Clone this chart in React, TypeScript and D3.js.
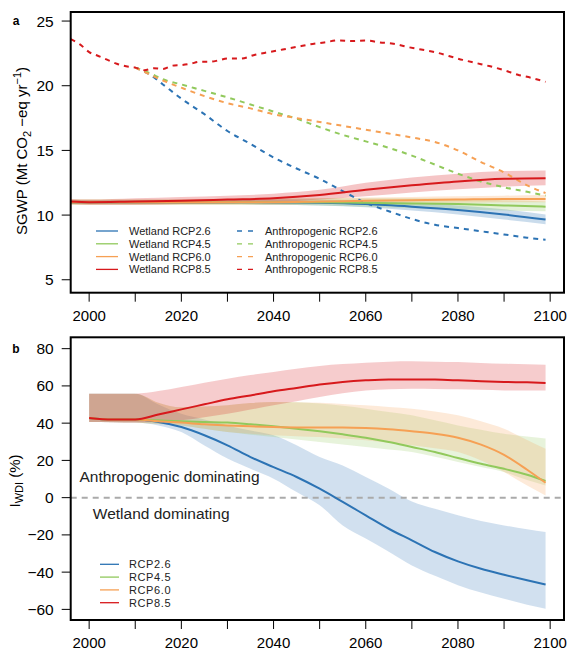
import * as d3 from 'd3'

// panel a: wetland SGWP (Mt CO2-eq / yr)
const wetYears = [1996, 2000, 2010, 2020, 2030, 2040, 2050, 2060, 2070, 2080, 2090, 2099]
const wet26 = [11.0, 11.0, 11.0, 11.0, 11.0, 10.98, 10.95, 10.85, 10.65, 10.4, 10.05, 9.65]
const wet26Lo = [10.85, 10.85, 10.85, 10.85, 10.85, 10.8, 10.75, 10.6, 10.35, 10.05, 9.65, 9.3]
const wet26Hi = [11.15, 11.15, 11.15, 11.15, 11.2, 11.2, 11.2, 11.1, 10.95, 10.75, 10.45, 10.05]
const wet45 = [11.0, 11.0, 11.0, 11.0, 11.0, 11.0, 11.0, 10.95, 10.9, 10.85, 10.75, 10.65]
const wet45Lo = [10.8, 10.8, 10.8, 10.8, 10.8, 10.8, 10.75, 10.65, 10.55, 10.45, 10.35, 10.3]
const wet45Hi = [11.2, 11.2, 11.2, 11.2, 11.25, 11.3, 11.3, 11.3, 11.3, 11.25, 11.15, 11.05]
const wet60 = [11.0, 11.0, 11.0, 11.0, 11.0, 11.0, 11.05, 11.1, 11.15, 11.2, 11.25, 11.25]
const wet60Lo = [10.8, 10.8, 10.8, 10.8, 10.8, 10.8, 10.85, 10.9, 10.95, 10.95, 11.0, 11.0]
const wet60Hi = [11.2, 11.2, 11.2, 11.2, 11.25, 11.25, 11.3, 11.35, 11.4, 11.45, 11.5, 11.55]
const wet85 = [11.05, 11.0, 11.05, 11.1, 11.2, 11.3, 11.55, 11.95, 12.3, 12.6, 12.8, 12.85]
const wet85Lo = [10.85, 10.8, 10.8, 10.85, 10.9, 11.0, 11.2, 11.45, 11.75, 12.0, 12.2, 12.3]
const wet85Hi = [11.25, 11.2, 11.3, 11.4, 11.5, 11.65, 11.95, 12.5, 12.9, 13.2, 13.4, 13.45]

// panel a: anthropogenic SGWP
const anth85Years = [1996, 1998, 2000, 2002, 2004, 2006, 2008, 2010, 2012, 2014, 2016, 2018, 2020, 2022, 2024, 2026, 2028, 2030, 2033, 2036, 2039, 2042, 2045, 2048, 2051, 2054, 2057, 2060, 2063, 2066, 2069, 2072, 2075, 2078, 2081, 2084, 2087, 2090, 2093, 2096, 2099]
const anth85 = [23.6, 23.2, 22.6, 22.3, 22.0, 21.7, 21.5, 21.4, 21.2, 21.35, 21.3, 21.55, 21.6, 21.7, 21.85, 21.85, 21.95, 22.1, 22.1, 22.4, 22.6, 22.8, 23.0, 23.2, 23.35, 23.5, 23.45, 23.5, 23.35, 23.25, 23.0, 22.8, 22.6, 22.3, 22.0, 21.75, 21.5, 21.2, 20.85, 20.6, 20.3]
const anthYears = [2010, 2013, 2016, 2020, 2025, 2030, 2035, 2040, 2045, 2050, 2055, 2060, 2065, 2070, 2075, 2080, 2085, 2090, 2095, 2099]
const anth26 = [21.4, 20.9, 20.1, 19.0, 17.8, 16.5, 15.5, 14.45, 13.6, 12.8, 11.85, 10.95, 10.3, 9.7, 9.25, 9.0, 8.75, 8.5, 8.25, 8.1]
const anth45 = [21.4, 21.0, 20.5, 20.1, 19.6, 19.1, 18.55, 18.0, 17.45, 16.8, 16.2, 15.7, 15.2, 14.6, 13.9, 13.2, 12.6, 12.15, 11.8, 11.5]
const anth60 = [21.4, 20.9, 20.4, 19.85, 19.2, 18.65, 18.25, 17.8, 17.5, 17.2, 16.9, 16.6, 16.3, 16.0, 15.65, 15.0, 14.1, 13.3, 12.3, 11.7]

// panel b: I_WDI (%)
const wdiYears = [2000, 2005, 2010, 2015, 2020, 2025, 2030, 2035, 2040, 2045, 2050, 2055, 2060, 2065, 2070, 2075, 2080, 2085, 2090, 2095, 2099]
const wdi26 = [42.8, 41.9, 42.0, 40.6, 37.9, 33.5, 28.1, 21.8, 16.4, 11.1, 4.8, -2.3, -9.5, -16.7, -22.9, -29.2, -34.2, -38.2, -41.4, -44.4, -46.7]
const wdi26Lo = [40.6, 40.5, 40.3, 38.8, 35.2, 28, 21, 15.5, 10.2, 3, -4.1, -14.9, -22, -29, -36.4, -42, -47, -51, -54.3, -57.5, -59.6]
const wdi26Hi = [55.8, 55.8, 55.8, 50, 45, 42, 38.8, 36, 33.5, 28.1, 21.8, 17.3, 11.1, 4.8, -2.1, -6, -9.5, -12.5, -14.9, -17, -18.5]
const wdi45 = [42.8, 41.9, 42.0, 41.5, 41.0, 40.6, 40.3, 39.4, 38.3, 37.0, 35.6, 34.0, 32.2, 29.9, 27.2, 24.5, 21.3, 18.2, 15.5, 12.3, 9.0]
const wdi45Lo = [40.6, 40.5, 40.3, 39.5, 38.8, 37, 35.2, 33.8, 32.5, 31.2, 29.9, 28.5, 27.2, 25.8, 24.5, 22, 19.2, 16.5, 13.8, 9.5, 6.5]
const wdi45Hi = [55.8, 55.8, 55.8, 51, 48.5, 49, 49.6, 50.8, 51.4, 51.2, 50.5, 49.3, 47.8, 46, 44.2, 41.5, 38.8, 36.5, 34.3, 32.8, 31.7]
const wdi60 = [42.8, 41.9, 42.0, 41.0, 40.3, 39.4, 38.8, 38.3, 37.9, 37.7, 37.7, 37.7, 37.4, 36.7, 35.6, 34.3, 32.2, 28.5, 23.0, 15.0, 8.0]
const wdi60Lo = [40.6, 40.5, 40.3, 39.5, 38.8, 37, 35.2, 34.3, 33.5, 33, 32.5, 31.7, 30.8, 29.5, 28.1, 26.5, 24.5, 20, 13.8, 6.5, 1.2]
const wdi60Hi = [55.8, 55.8, 55.8, 51, 48.5, 49, 49.6, 50.8, 51.4, 51.2, 51, 50.3, 49.6, 48.7, 47.8, 46.2, 44.2, 41, 37, 31, 26.3]
const wdi85 = [42.8, 41.9, 42.0, 44.6, 47.4, 50.1, 52.8, 54.9, 57.1, 58.9, 60.7, 62.1, 63.0, 63.5, 63.5, 63.4, 63.0, 62.5, 62.1, 61.9, 61.6]
const wdi85Lo = [40.6, 40.5, 40.3, 40.8, 41.5, 43.2, 45, 47.3, 49.6, 51.8, 54, 56, 57.6, 58.2, 58.5, 58.4, 58.2, 57.9, 57.6, 57.6, 57.6]
const wdi85Hi = [55.8, 55.8, 55.8, 57.2, 59.4, 61.7, 63.9, 65.8, 67.5, 69.2, 70.7, 71.7, 72.5, 73, 73.2, 73, 72.8, 72.3, 71.9, 71.6, 71.4]

const scenarios = ['RCP2.6', 'RCP4.5', 'RCP6.0', 'RCP8.5']
const colours = ['#2c73b4', '#91c95c', '#f6a054', '#d7191c']
const xTicks = d3.range(2000, 2101, 10)
const yTicksA = [5, 10, 15, 20, 25]
const yTicksB = [-60, -40, -20, 0, 20, 40, 60, 80]

const font = '"Liberation Sans", Arial, sans-serif'

const box = { left: 70.7, right: 564 }
const boxA = { top: 12, bottom: 292.7 }
const boxB = { top: 337.3, bottom: 620 }

const x = d3.scaleLinear().domain([1996, 2103]).range([box.left, box.right])
const yA = d3.scaleLinear().domain([4, 25.7]).range([boxA.bottom, boxA.top])
const yB = d3.scaleLinear().domain([-65.7, 86.1]).range([boxB.bottom, boxB.top])

const zip = (years: number[], vals: number[]) => years.map((yr, i) => [yr, vals[i]] as [number, number])
const zip3 = (years: number[], lo: number[], hi: number[]) => years.map((yr, i) => [yr, lo[i], hi[i]] as [number, number, number])

const XAxis = ({ bottom }: { bottom: number }) => (
    <g>
        {xTicks.map(t => (
            <g key={t}>
                <line x1={x(t)} x2={x(t)} y1={bottom} y2={bottom + 9} stroke='black' strokeWidth={1} />
                {t % 20 === 0 && (
                    <text x={x(t)} y={bottom + 28} textAnchor='middle' fontSize={15}>{t}</text>
                )}
            </g>
        ))}
    </g>
)

const YAxis = ({ ticks, y }: { ticks: number[], y: d3.ScaleLinear<number, number> }) => (
    <g>
        {ticks.map(t => (
            <g key={t}>
                <line x1={box.left - 9} x2={box.left} y1={y(t)} y2={y(t)} stroke='black' strokeWidth={1} />
                <text x={box.left - 17} y={y(t)} textAnchor='end' dominantBaseline='central' fontSize={15.5}>
                    {t < 0 ? '\u2212' + Math.abs(t) : t}
                </text>
            </g>
        ))}
    </g>
)

const App = () => {
    const lineA = d3.line<[number, number]>().x(d => x(d[0])).y(d => yA(d[1])).curve(d3.curveMonotoneX)
    const areaA = d3.area<[number, number, number]>().x(d => x(d[0])).y0(d => yA(d[1])).y1(d => yA(d[2])).curve(d3.curveMonotoneX)
    const lineB = d3.line<[number, number]>().x(d => x(d[0])).y(d => yB(d[1])).curve(d3.curveMonotoneX)
    const areaB = d3.area<[number, number, number]>().x(d => x(d[0])).y0(d => yB(d[1])).y1(d => yB(d[2])).curve(d3.curveMonotoneX)

    const wetMean = [wet26, wet45, wet60, wet85]
    const wetLo = [wet26Lo, wet45Lo, wet60Lo, wet85Lo]
    const wetHi = [wet26Hi, wet45Hi, wet60Hi, wet85Hi]
    const anth = [
        zip(anthYears, anth26),
        zip(anthYears, anth45),
        zip(anthYears, anth60),
        zip(anth85Years, anth85),
    ]
    const wdiMean = [wdi26, wdi45, wdi60, wdi85]
    const wdiLo = [wdi26Lo, wdi45Lo, wdi60Lo, wdi85Lo]
    const wdiHi = [wdi26Hi, wdi45Hi, wdi60Hi, wdi85Hi]

    return (
        <svg width={568} height={655} style={{ position: 'absolute', left: 0, top: 0, background: 'white' }}
            fontFamily={font}>
            {/* panel a */}
            <g>
                {wetMean.map((_, i) => (
                    <path key={'ba' + i} d={areaA(zip3(wetYears, wetLo[i], wetHi[i])) ?? ''}
                        fill={colours[i]} fillOpacity={0.25} stroke='none' />
                ))}
                {anth.map((d, i) => (
                    <path key={'da' + i} d={lineA(d) ?? ''} fill='none' stroke={colours[i]}
                        strokeWidth={2} strokeDasharray='5,5' />
                ))}
                {wetMean.map((m, i) => (
                    <path key={'la' + i} d={lineA(zip(wetYears, m)) ?? ''} fill='none'
                        stroke={colours[i]} strokeWidth={2} />
                ))}
                <rect x={box.left} y={boxA.top} width={box.right - box.left} height={boxA.bottom - boxA.top}
                    fill='none' stroke='black' strokeWidth={2} />
                <XAxis bottom={boxA.bottom} />
                <YAxis ticks={yTicksA} y={yA} />
                <text x={16} y={25} fontSize={12} fontWeight='bold' textAnchor='middle'>a</text>
                <text transform='translate(27,151) rotate(-90)' textAnchor='middle' fontSize={15}>
                    SGWP (Mt CO<tspan fontSize={11} dy={4}>2</tspan>
                    <tspan dy={-4}> {'\u2212'}eq yr</tspan>
                    <tspan fontSize={11} dy={-6}>{'\u2212'}1</tspan>
                    <tspan dy={6}>)</tspan>
                </text>
                <g fontSize={11} fill='#222'>
                    {scenarios.map((s, i) => {
                        const ly = 231 + i * 12.8
                        return (
                            <g key={'lg' + i}>
                                <line x1={96} x2={118} y1={ly} y2={ly} stroke={colours[i]} strokeWidth={1.3} />
                                <text x={129} y={ly} dominantBaseline='central'>Wetland {s}</text>
                                <line x1={237} x2={253} y1={ly} y2={ly} stroke={colours[i]} strokeWidth={1.3}
                                    strokeDasharray='5,6' />
                                <text x={265} y={ly} dominantBaseline='central'>Anthropogenic {s}</text>
                            </g>
                        )
                    })}
                </g>
            </g>

            {/* panel b */}
            <g>
                {wdiMean.map((_, i) => (
                    <path key={'bb' + i} d={areaB(zip3(wdiYears, wdiLo[i], wdiHi[i])) ?? ''}
                        fill={colours[i]} fillOpacity={0.22} stroke='none' />
                ))}
                <line x1={box.left} x2={box.right} y1={yB(0)} y2={yB(0)} stroke='#aaaaaa'
                    strokeWidth={2} strokeDasharray='6,5' />
                {wdiMean.map((m, i) => (
                    <path key={'lb' + i} d={lineB(zip(wdiYears, m)) ?? ''} fill='none'
                        stroke={colours[i]} strokeWidth={2} />
                ))}
                <rect x={box.left} y={boxB.top} width={box.right - box.left} height={boxB.bottom - boxB.top}
                    fill='none' stroke='black' strokeWidth={2} />
                <XAxis bottom={boxB.bottom} />
                <YAxis ticks={yTicksB} y={yB} />
                <text x={16} y={353} fontSize={12} fontWeight='bold' textAnchor='middle'>b</text>
                <text transform='translate(20,481) rotate(-90)' textAnchor='middle' fontSize={15}>
                    I<tspan fontSize={11} dy={3}>WDI</tspan>
                    <tspan dy={-3}> (%)</tspan>
                </text>
                <text x={x(1997.9)} y={yB(8.4)} fontSize={15.5} fill='#222'>Anthropogenic dominating</text>
                <text x={x(2000.8)} y={yB(-11.5)} fontSize={15.5} fill='#222'>Wetland dominating</text>
                <g fontSize={11} fill='#222'>
                    {scenarios.map((s, i) => {
                        const ly = 564.3 + i * 12.8
                        return (
                            <g key={'lgb' + i}>
                                <line x1={100} x2={119} y1={ly} y2={ly} stroke={colours[i]} strokeWidth={1.3} />
                                <text x={129} y={ly} dominantBaseline='central' letterSpacing={0.6}>{s}</text>
                            </g>
                        )
                    })}
                </g>
            </g>
        </svg>
    )
}

export default App
